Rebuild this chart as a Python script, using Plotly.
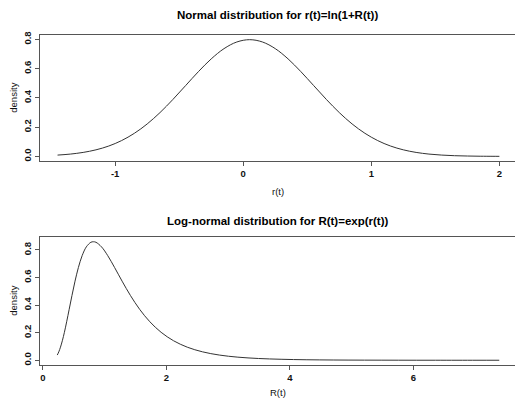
import plotly.graph_objects as go

# Top panel: r(t) values and density
r_vals = [-1.45, -1.35, -1.25, -1.15, -1.05, -0.95, -0.85, -0.75, -0.65, -0.55,
          -0.45, -0.35, -0.25, -0.15, -0.05, 0.05, 0.15, 0.25, 0.35, 0.45,
          0.55, 0.65, 0.75, 0.85, 0.95, 1.05, 1.15, 1.25, 1.35, 1.45,
          1.55, 1.65, 1.75, 1.85, 1.95, 2.0]
r_density = [0.0089, 0.0158, 0.0272, 0.0448, 0.0709, 0.1080, 0.1579, 0.2218, 0.2995, 0.3884,
             0.4840, 0.5794, 0.6665, 0.7366, 0.7821, 0.7979, 0.7821, 0.7366, 0.6665, 0.5794,
             0.4840, 0.3884, 0.2995, 0.2218, 0.1579, 0.1080, 0.0709, 0.0448, 0.0272, 0.0158,
             0.0089, 0.0048, 0.0025, 0.0012, 0.0006, 0.0004]

# Bottom panel: R(t) values and density
R_vals = [0.2346, 0.2592, 0.2865, 0.3166, 0.3499, 0.3867, 0.4274, 0.4724, 0.5220, 0.5769,
          0.6376, 0.7047, 0.7788, 0.8187, 0.8607, 0.9512, 1.0513, 1.1618, 1.2840, 1.4191,
          1.5683, 1.7333, 1.9155, 2.1170, 2.3396, 2.5857, 2.8577, 3.1582, 3.4903, 3.8574,
          4.2631, 4.7115, 5.2070, 5.7546, 6.3598, 7.0287, 7.3891]
R_density = [0.0378, 0.0610, 0.0949, 0.1415, 0.2026, 0.2793, 0.3694, 0.4695, 0.5738, 0.6733,
             0.7591, 0.8222, 0.8558, 0.8595, 0.8558, 0.8222, 0.7590, 0.6732, 0.5737, 0.4697,
             0.3694, 0.2792, 0.2028, 0.1415, 0.0948, 0.0611, 0.0378, 0.0224, 0.0128, 0.0071,
             0.0037, 0.0019, 0.0009, 0.0004, 0.0002, 0.0001, 0.0001]

top_title = "Normal distribution for r(t)=ln(1+R(t))"
bottom_title = "Log-normal distribution for R(t)=exp(r(t))"
top_xlabel = "r(t)"
bottom_xlabel = "R(t)"
ylabel = "density"
top_xticks = [-1, 0, 1, 2]
top_xticktext = ["-1", "0", "1", "2"]
bottom_xticks = [0, 2, 4, 6]
yticks = [0.0, 0.2, 0.4, 0.6, 0.8]

W, H = 515, 400
ML, MR, MT, MB = 40, 0, 35, 35
PH = H - MT - MB
PW = W - ML - MR

def py(p):
    return (H - MB - p) / PH

def px(p):
    return (p - ML) / PW

line_col = "#333333"
axis_col = "#555555"
font = "Liberation Sans, Arial, sans-serif"

fig = go.Figure()
fig.add_trace(go.Scatter(x=r_vals, y=r_density, mode="lines", line=dict(color=line_col, width=1, shape="spline"),
                         xaxis="x", yaxis="y", showlegend=False, hoverinfo="skip"))
fig.add_trace(go.Scatter(x=R_vals, y=R_density, mode="lines", line=dict(color=line_col, width=1, shape="spline"),
                         xaxis="x2", yaxis="y2", showlegend=False, hoverinfo="skip"))

ax_common = dict(showgrid=False, zeroline=False, showline=True, linecolor=axis_col, linewidth=1,
                 ticks="outside", ticklen=4, tickcolor=axis_col,
                 tickfont=dict(size=9.5, color="#111", family=font, weight="bold"))

fig.update_layout(
    width=W, height=H,
    margin=dict(l=ML, r=MR, t=MT, b=MB),
    paper_bgcolor="white", plot_bgcolor="white",
    xaxis=dict(domain=[0, 1], anchor="y", range=[-1.587, 2.122], tickvals=top_xticks, ticktext=top_xticktext,
               mirror=True, **ax_common),
    yaxis=dict(domain=[py(161), 1], anchor="x", range=[-0.0315, 0.8298], tickvals=yticks, tickformat=".1f",
               tickangle=-90, **ax_common),
    xaxis2=dict(domain=[0, 1], anchor="y2", range=[-0.045, 7.644], tickvals=bottom_xticks, mirror=True, **ax_common),
    yaxis2=dict(domain=[0, py(237)], anchor="x2", range=[-0.0344, 0.894], tickvals=yticks, tickformat=".1f",
                tickangle=-90, **ax_common),
)

lab_font = dict(size=9.5, color="#111", family=font)
ann = []
ann.append(dict(text="<b>" + top_title + "</b>", x=0.5, y=py(15), xref="paper", yref="paper",
                showarrow=False, xanchor="center", yanchor="middle", font=dict(size=11.5, color="#000", family=font)))
ann.append(dict(text="<b>" + bottom_title + "</b>", x=0.5, y=py(221), xref="paper", yref="paper",
                showarrow=False, xanchor="center", yanchor="middle", font=dict(size=11.5, color="#000", family=font)))
ann.append(dict(text=top_xlabel, x=px(278), y=py(192), xref="paper", yref="paper",
                showarrow=False, xanchor="center", yanchor="middle", font=lab_font))
ann.append(dict(text=bottom_xlabel, x=px(278), y=py(392), xref="paper", yref="paper",
                showarrow=False, xanchor="center", yanchor="middle", font=lab_font))
ann.append(dict(text=ylabel, x=px(12.7), y=py(98), xref="paper", yref="paper", textangle=-90,
                showarrow=False, xanchor="center", yanchor="middle", font=lab_font))
ann.append(dict(text=ylabel, x=px(12.7), y=py(301), xref="paper", yref="paper", textangle=-90,
                showarrow=False, xanchor="center", yanchor="middle", font=lab_font))
fig.update_layout(annotations=ann)

fig.write_html("out.html", config={"displayModeBar": False},
               post_script="document.body.style.margin='0';document.body.style.padding='0';")
